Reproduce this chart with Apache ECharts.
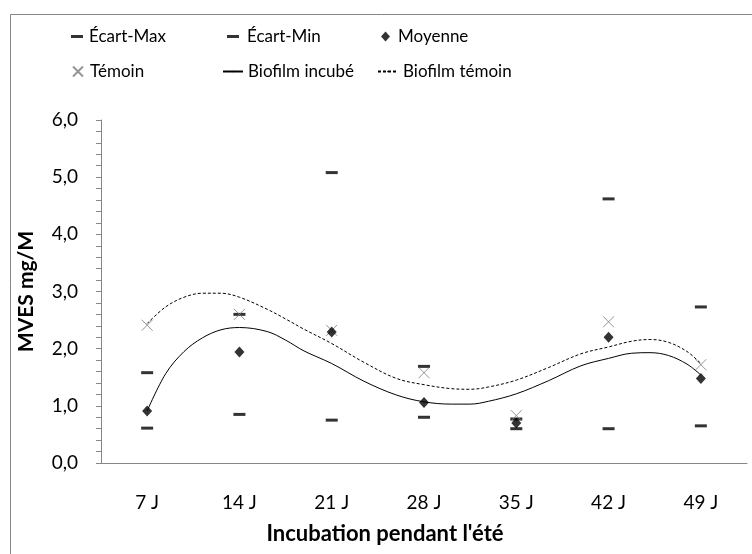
<!DOCTYPE html>
<html>
<head>
<meta charset="utf-8">
<script src="https://cdn.jsdelivr.net/npm/echarts@6/dist/echarts.min.js"></script>
<style>
html,body{margin:0;padding:0;background:#fff;}
#chart{width:752px;height:554px;}
</style>
</head>
<body>
<div id="chart"></div>
<script>
const categories = ['7 J', '14 J', '21 J', '28 J', '35 J', '42 J', '49 J'];
const yTicks = [0, 1, 2, 3, 4, 5, 6];
const ecartMax = [1.58, 2.60, 5.08, 1.69, 0.77, 4.62, 2.73];
const ecartMin = [0.61, 0.85, 0.75, 0.80, 0.60, 0.60, 0.65];
const moyenne  = [0.91, 1.94, 2.29, 1.06, 0.70, 2.20, 1.48];
const temoin   = [2.41, 2.60, 2.32, 1.58, 0.83, 2.47, 1.72];
// trend curves (x in category index units)
const curveX = [0, 0.2, 0.4, 0.6, 0.8, 1.0, 1.3, 1.5, 1.7, 2.0, 2.35, 2.7, 3.0, 3.3, 3.5, 3.7, 4.0, 4.35, 4.7, 5.0, 5.25, 5.45, 5.65, 5.85, 6.0];
const biofilmIncube = [0.91, 1.56, 1.95, 2.19, 2.33, 2.37, 2.30, 2.15, 1.96, 1.74, 1.43, 1.19, 1.07, 1.03, 1.03, 1.08, 1.21, 1.44, 1.70, 1.83, 1.92, 1.93, 1.88, 1.73, 1.54];
const biofilmTemoin = [2.44, 2.73, 2.90, 2.97, 2.97, 2.90, 2.69, 2.52, 2.34, 2.09, 1.76, 1.48, 1.37, 1.30, 1.29, 1.33, 1.45, 1.67, 1.91, 2.03, 2.13, 2.16, 2.11, 1.95, 1.74];

const FONT = 'Lato, "Open Sans", sans-serif';
const AXIS = '#868686';
const crossPath = 'path://M0,0L10,10M10,0L0,10';

const chart = echarts.init(document.getElementById('chart'), null, {renderer: 'canvas'});

function leg(name, left, top, w, h, pad) {
  return {
    data: [name], left: left, top: top, itemWidth: w, itemHeight: h,
    padding: 0, itemGap: 0,
    textStyle: {fontFamily: FONT, fontSize: 17, color: '#000', padding: [0, 0, 0, pad]}
  };
}

const option = {
  animation: false,
  backgroundColor: '#fff',
  graphic: [{
    type: 'rect', left: 8, top: 12, silent: true,
    shape: {x: 0, y: 0, width: 800, height: 600},
    style: {fill: 'none', stroke: AXIS, lineWidth: 1}
  }],
  title: [
    {text: "Incubation pendant l'été", left: 380, top: 518, textAlign: 'center',
     textStyle: {fontFamily: FONT, fontSize: 22, fontWeight: 'bold', color: '#000'}},
  ],
  legend: [
    leg('Écart-Max', 71, 28, 12, 3, 1),
    leg('Écart-Min', 227, 28, 12, 3, 3),
    leg('Moyenne', 381, 28, 9, 10, 3),
    leg('Témoin', 72, 63, 10, 10, 2),
    leg('Biofilm incubé', 222, 63, 20, 2, 0),
    leg('Biofilm témoin', 377, 63, 20, 2, 0)
  ],
  grid: {left: 101, right: 5, top: 120, bottom: 91, containLabel: false},
  xAxis: [
    {type: 'category', data: categories, boundaryGap: true,
     axisLine: {lineStyle: {color: AXIS, width: 1}},
     axisTick: {show: false},
     axisLabel: {fontFamily: FONT, fontSize: 19, color: '#000', margin: 30}},
    {type: 'value', min: -0.5, max: 6.5, show: false}
  ],
  yAxis: {
    type: 'value', min: 0, max: 6, interval: 1,
    name: 'MVES mg/M', nameLocation: 'middle', nameGap: 64, nameRotate: 90,
    nameTextStyle: {fontFamily: FONT, fontSize: 21, fontWeight: 'bold', color: '#000'},
    axisLine: {show: true, onZero: false, lineStyle: {color: AXIS, width: 1}},
    axisTick: {show: true, length: 5, lineStyle: {color: AXIS}},
    minorTick: {show: true, splitNumber: 5, length: 5, lineStyle: {color: AXIS}},
    splitLine: {show: false},
    axisLabel: {fontFamily: FONT, fontSize: 19, color: '#000', margin: 23,
      formatter: v => v.toFixed(1).replace('.', ',')}
  },
  series: [
    {name: 'Biofilm incubé', type: 'line', xAxisIndex: 1, smooth: 0.35, symbol: 'none',
     data: curveX.map((x, i) => [x, biofilmIncube[i]]),
     lineStyle: {color: '#000', width: 1}, itemStyle: {color: '#000'}, z: 2},
    {name: 'Biofilm témoin', type: 'line', xAxisIndex: 1, smooth: 0.35, symbol: 'none',
     data: curveX.map((x, i) => [x, biofilmTemoin[i]]),
     lineStyle: {color: '#000', width: 1, type: [3, 2]}, itemStyle: {color: '#000'}, z: 2},
    {name: 'Écart-Max', type: 'scatter', data: ecartMax, symbol: 'rect', symbolSize: [12, 3],
     itemStyle: {color: '#000'}, z: 3},
    {name: 'Écart-Min', type: 'scatter', data: ecartMin, symbol: 'rect', symbolSize: [12, 3],
     itemStyle: {color: '#000'}, z: 3},
    {name: 'Témoin', type: 'scatter', data: temoin, symbol: crossPath, symbolSize: 11,
     itemStyle: {color: 'rgba(0,0,0,0)', borderColor: '#7a7a7a', borderWidth: 1}, z: 4},
    {name: 'Moyenne', type: 'scatter', data: moyenne, symbol: 'diamond', symbolSize: [10, 11],
     itemStyle: {color: '#000'}, z: 5}
  ]
};
chart.setOption(option);
</script>
</body>
</html>
